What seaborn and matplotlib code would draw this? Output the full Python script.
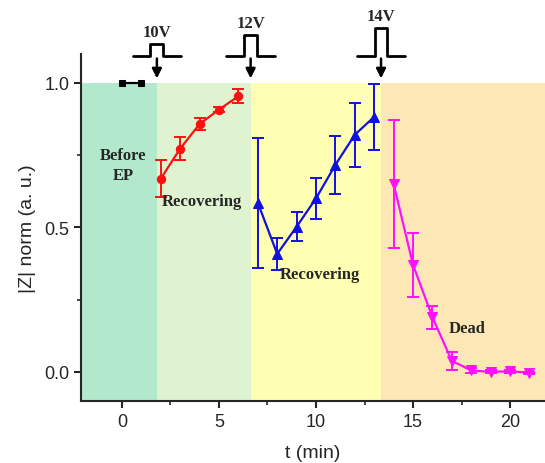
import numpy as np
import pandas as pd
import matplotlib
matplotlib.use('Agg')
import matplotlib.pyplot as plt
import seaborn as sns
from matplotlib.ticker import MultipleLocator

sns.set_style("ticks")
plt.rcParams['font.family'] = ['Liberation Sans', 'DejaVu Sans']

# data
t_before = [0, 1]
z_before = [1.0, 1.0]

t_10v = [2, 3, 4, 5, 6]
z_10v = [0.668, 0.772, 0.857, 0.907, 0.953]
e_10v = [0.065, 0.04, 0.02, 0.01, 0.025]

t_12v = [7, 8, 9, 10, 11, 12, 13]
z_12v = [0.585, 0.408, 0.502, 0.600, 0.716, 0.820, 0.882]
e_12v = [0.225, 0.055, 0.05, 0.07, 0.10, 0.11, 0.115]

t_14v = [14, 15, 16, 17, 18, 19, 20, 21]
z_14v = [0.650, 0.370, 0.189, 0.038, 0.005, 0.0, 0.002, -0.003]
e_14v = [0.22, 0.11, 0.04, 0.03, 0.01, 0.005, 0.005, 0.004]

# background stages
band_edges = [-2.1, 1.8, 6.63, 13.35, 21.8]
band_colors = ['#b2e8cc', '#e0f3d0', '#ffffb3', '#fde8b5']

# pulses applied
pulse_times = [1.8, 6.63, 13.35]
pulse_labels = ['10V', '12V', '14V']
pulse_tops = [1.135, 1.166, 1.19]

stage_text = ['Before\nEP', 'Recovering', 'Recovering', 'Dead']
stage_x = [0.05, 4.1, 10.2, 17.8]
stage_y = [0.716, 0.59, 0.34, 0.153]

fig = plt.figure(figsize=(5.45, 4.64), dpi=100)
ax = fig.add_axes([0.149, 0.134, 0.851, 0.748])

for x0, x1, c in zip(band_edges[:-1], band_edges[1:], band_colors):
    ax.fill_between([x0, x1], -0.1, 1.0, color=c, lw=0, zorder=0)

series = [
    (t_before, z_before, None, 'black', 's', 5),
    (t_10v, z_10v, e_10v, '#ff1010', 'o', 6),
    (t_12v, z_12v, e_12v, '#1010e0', '^', 7),
    (t_14v, z_14v, e_14v, '#ff10ff', 'v', 7),
]
for t, z, e, col, mk, ms in series:
    df = pd.DataFrame({'t': t, 'z': z})
    sns.lineplot(data=df, x='t', y='z', ax=ax, color=col, marker=mk,
                 markersize=ms, markeredgecolor=col, linewidth=1.6, zorder=3)
    if e is not None:
        ax.errorbar(t, z, yerr=e, fmt='none', ecolor=col, elinewidth=1.4,
                    capsize=4, capthick=1.4, zorder=2)

for s, x, y in zip(stage_text, stage_x, stage_y):
    ax.text(x, y, s, ha='center', va='center', fontsize=12,
            fontweight='bold', family='Liberation Serif', linespacing=1.3)

base = 1.093
for x, lab, top in zip(pulse_times, pulse_labels, pulse_tops):
    px = [x - 1.25, x - 0.33, x - 0.33, x + 0.33, x + 0.33, x + 1.25]
    py = [base, base, top, top, base, base]
    ax.plot(px, py, color='black', lw=2, clip_on=False, zorder=5)
    ax.annotate('', xy=(x, 1.005), xytext=(x, base),
                arrowprops=dict(arrowstyle='-|>', color='black', lw=1.8,
                                mutation_scale=14),
                annotation_clip=False)
    ax.text(x, top + 0.012, lab, ha='center', va='bottom', fontsize=12,
            fontweight='bold', family='Liberation Serif')

ax.set_xlim(band_edges[0], band_edges[-1])
ax.set_ylim(-0.1, 1.1)
ax.xaxis.set_major_locator(MultipleLocator(5))
ax.xaxis.set_minor_locator(MultipleLocator(2.5))
ax.yaxis.set_major_locator(MultipleLocator(0.5))
ax.yaxis.set_minor_locator(MultipleLocator(0.25))
ax.set_yticks([0.0, 0.5, 1.0])
ax.set_yticklabels(['0.0', '0.5', '1.0'])
ax.tick_params(which='major', direction='out', length=5, width=1.5, labelsize=13)
ax.tick_params(which='minor', direction='out', length=3, width=1.2)
ax.spines['top'].set_visible(False)
ax.spines['right'].set_visible(False)
ax.spines['left'].set_linewidth(1.5)
ax.spines['bottom'].set_linewidth(1.5)
ax.set_xlabel('t (min)', fontsize=14, labelpad=10)
ax.set_ylabel('|Z| norm (a. u.)', fontsize=14, labelpad=6)

fig.savefig('out.png', dpi=100)
